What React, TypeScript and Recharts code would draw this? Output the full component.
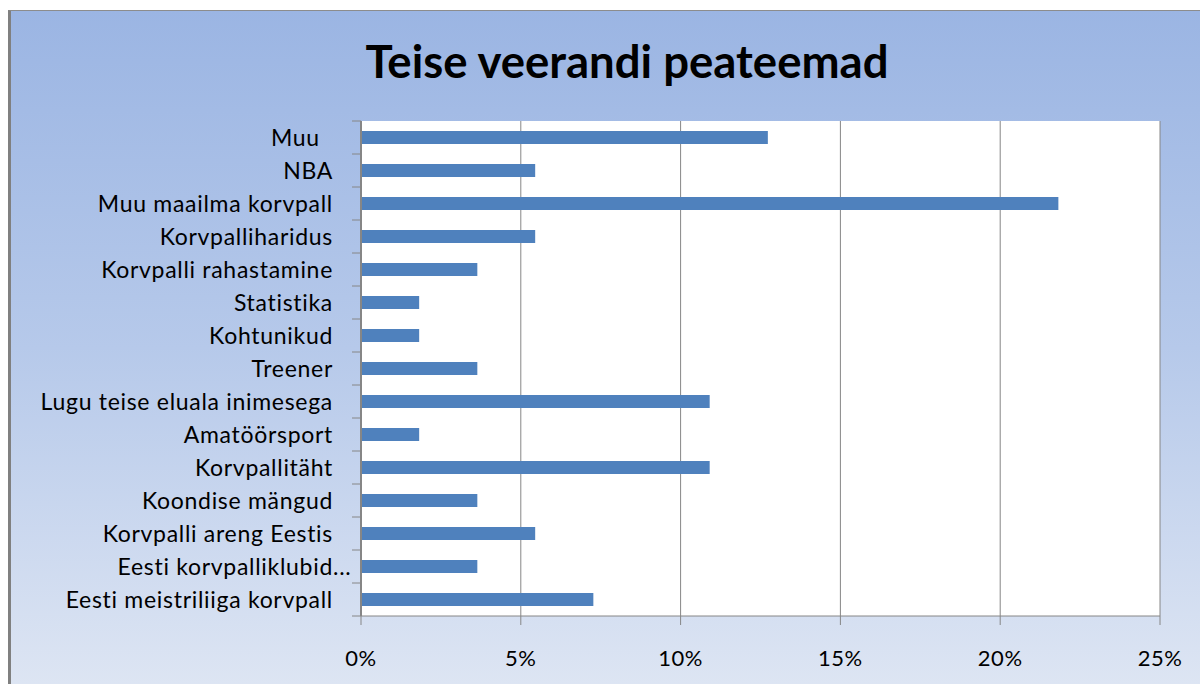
import React from 'react';
import { BarChart, Bar, XAxis, YAxis, CartesianGrid } from 'recharts';

const TITLE = 'Teise veerandi peateemad';

const categories = [
  'Muu  ',
  'NBA',
  'Muu maailma korvpall',
  'Korvpalliharidus',
  'Korvpalli rahastamine',
  'Statistika',
  'Kohtunikud',
  'Treener',
  'Lugu teise eluala inimesega',
  'Amatöörsport',
  'Korvpallitäht',
  'Koondise mängud',
  'Korvpalli areng Eestis',
  'Eesti korvpalliklubid...',
  'Eesti meistriliiga korvpall',
];

const shares = [12.73, 5.45, 21.82, 5.45, 3.64, 1.82, 1.82, 3.64, 10.91, 1.82, 10.91, 3.64, 5.45, 3.64, 7.27];

const xTicks = [0, 5, 10, 15, 20, 25];

const data = categories.map((name, i) => ({ name, value: shares[i] }));

const FONT = 'Lato, "Open Sans", sans-serif';
const CHART_W = 1189;
const CHART_H = 673;
const Y_AXIS_W = 350;
const TOP = 110;
const X_AXIS_H = 68;
const PLOT_H = CHART_H - TOP - X_AXIS_H;
const GRAY = '#868686';
const LABEL_SIZE = 23;
const NOLIG: React.CSSProperties = { fontVariantLigatures: 'none', fontFeatureSettings: '"liga" 0, "clig" 0' };

const CatTick = (props: any) => {
  const { y, payload, index } = props;
  const label: string = String(payload.value);
  const band = PLOT_H / categories.length;
  const axisX = Y_AXIS_W;
  const textX = axisX - 28;
  const ell = label.endsWith('...');
  const main = ell ? label.slice(0, -3) : label;
  return (
    <g>
      <line x1={axisX - 9} x2={axisX} y1={y - band / 2} y2={y - band / 2} stroke={GRAY} strokeWidth={1} />
      {index === categories.length - 1 && (
        <line x1={axisX - 9} x2={axisX} y1={y + band / 2} y2={y + band / 2} stroke={GRAY} strokeWidth={1} />
      )}
      <text
        x={textX}
        y={y}
        dy="0.36em"
        textAnchor="end"
        fill="#000"
        fontSize={LABEL_SIZE}
        fontFamily={FONT}
        letterSpacing={0.7}
        style={{ whiteSpace: 'pre', ...NOLIG }}
      >
        {main}
      </text>
      {ell && (
        <text
          x={textX}
          y={y}
          dy="0.36em"
          textAnchor="start"
          fill="#000"
          fontSize={LABEL_SIZE}
          fontFamily={FONT}
          letterSpacing={0.7}
          style={NOLIG}
        >
          ...
        </text>
      )}
    </g>
  );
};

export default function App() {
  return (
    <div
      style={{
        position: 'absolute',
        left: 8,
        top: 10,
        width: 1192,
        height: 674,
        boxSizing: 'border-box',
        borderLeft: '3px solid #808080',
        borderTop: '1px solid #8c8c8c',
        background: 'linear-gradient(to bottom, #9bb5e3 0%, #b6c9ea 50%, #dde5f3 100%)',
        overflow: 'hidden',
      }}
    >
      <div
        style={{
          position: 'absolute',
          left: 216,
          width: 800,
          top: 20,
          textAlign: 'center',
          fontFamily: FONT,
          fontWeight: 700,
          fontSize: 45.5,
          color: '#000',
          lineHeight: '60px',
          ...NOLIG,
        }}
      >
        {TITLE}
      </div>
      <BarChart
        width={CHART_W}
        height={CHART_H}
        data={data}
        layout="vertical"
        margin={{ top: TOP, right: 40, bottom: 0, left: 0 }}
        barCategoryGap={0}
        style={{ position: 'absolute', left: 0, top: 0 }}
      >
        <CartesianGrid horizontal={false} stroke={GRAY} fill="#ffffff" />
        <XAxis
          type="number"
          domain={[0, 25]}
          ticks={xTicks}
          tickFormatter={(v: number) => `${v}%`}
          height={X_AXIS_H}
          tickSize={9}
          tickMargin={25}
          stroke={GRAY}
          axisLine={{ stroke: GRAY }}
          tickLine={{ stroke: GRAY }}
          tick={{ fill: '#000', fontSize: 22, fontFamily: FONT, letterSpacing: 0.5 }}
          interval={0}
        />
        <YAxis
          type="category"
          dataKey="name"
          width={Y_AXIS_W}
          tickLine={false}
          axisLine={{ stroke: GRAY, strokeWidth: 2 }}
          tick={<CatTick />}
          interval={0}
        />
        <Bar dataKey="value" fill="#4f81bd" barSize={13} isAnimationActive={false} />
      </BarChart>
    </div>
  );
}
